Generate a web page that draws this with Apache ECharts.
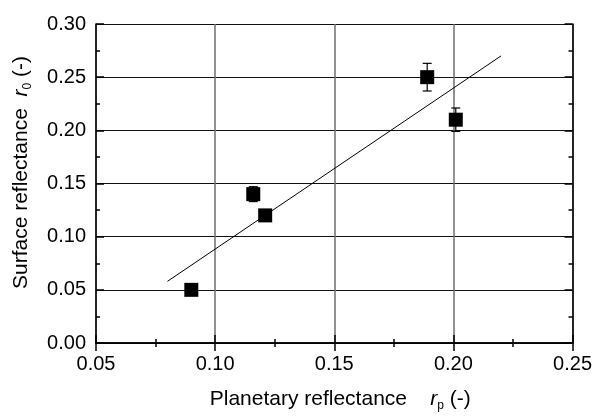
<!DOCTYPE html>
<html lang="en">
<head>
    <meta charset="UTF-8">
    <title>Surface vs planetary reflectance</title>
    <script src="https://cdn.jsdelivr.net/npm/echarts@6/dist/echarts.min.js"></script>
    <style>
        html, body { margin: 0; padding: 0; background: #fff; }
        #chart { width: 595px; height: 417px; }
    </style>
</head>
<body>
<div id="chart"></div>
<script type="text/javascript">
    // measured points (planetary rp, surface r0, error of r0)
    var planetary = [0.090, 0.116, 0.121, 0.189, 0.201];
    var surface = [0.050, 0.140, 0.120, 0.250, 0.210];
    var surfaceErr = [0.002, 0.007, 0.003, 0.013, 0.011];
    // fitted line end points
    var fitX = [0.08, 0.22];
    var fitY = [0.058, 0.270];
    // axis ranges
    var xRange = [0.05, 0.25];
    var yRange = [0.00, 0.30];
    var step = 0.05;

    var font = 'Liberation Sans, Arial, sans-serif';
    var points = planetary.map(function (x, i) { return [x, surface[i]]; });
    var errRows = planetary.map(function (x, i) { return [x, surface[i] - surfaceErr[i], surface[i] + surfaceErr[i]]; });
    var fitLine = fitX.map(function (x, i) { return [x, fitY[i]]; });

    function fmt(v) { return v.toFixed(2); }

    var tickCommon = {
        axisLine: { show: true, lineStyle: { color: '#000', width: 1.5 } },
        axisTick: { show: true, inside: true, length: 8, lineStyle: { color: '#000', width: 1.5 } },
        minorTick: { show: true, splitNumber: 2, length: 4, lineStyle: { color: '#000', width: 1.5 } }
    };

    var titleRich = {
        a: { fontSize: 21, fontFamily: font, color: '#000', lineHeight: 26 },
        i: { fontSize: 21, fontFamily: font, fontStyle: 'italic', color: '#000', lineHeight: 26 },
        s: { fontSize: 12, fontFamily: font, color: '#000', lineHeight: 12, verticalAlign: 'bottom' }
    };

    var chart = echarts.init(document.getElementById('chart'));
    var option = {
        animation: false,
        backgroundColor: '#fff',
        grid: { left: 96, right: 22, top: 24, bottom: 73 },
        xAxis: [
            Object.assign({
                type: 'value', min: xRange[0], max: xRange[1], interval: step,
                axisLabel: { formatter: fmt, color: '#000', fontSize: 20, fontFamily: font, margin: 11 },
                splitLine: { show: true, lineStyle: { color: '#6e6e6e', width: 1.5 } },
                name: '{a|Planetary reflectance    }{i|r}{s|p}{a| (-)}',
                nameLocation: 'middle', nameGap: 43,
                nameTextStyle: { padding: [0, 0, 0, 12], rich: titleRich }
            }, tickCommon),
            Object.assign({
                type: 'value', min: xRange[0], max: xRange[1], interval: step, position: 'top',
                axisLabel: { show: false }, splitLine: { show: false }
            }, tickCommon)
        ],
        yAxis: [
            Object.assign({
                type: 'value', min: yRange[0], max: yRange[1], interval: step,
                axisLabel: { formatter: fmt, color: '#000', fontSize: 20, fontFamily: font, margin: 10 },
                splitLine: { show: true, lineStyle: { color: '#111', width: 1 } },
                name: '{a|Surface reflectance  }{i|r}{s|0}{a| (-)}',
                nameLocation: 'middle', nameRotate: 90, nameGap: 62,
                nameTextStyle: { padding: [0, 0, 0, 22], rich: titleRich }
            }, tickCommon),
            Object.assign({
                type: 'value', min: yRange[0], max: yRange[1], interval: step, position: 'right',
                axisLabel: { show: false }, splitLine: { show: false }
            }, tickCommon)
        ],
        series: [
            {
                type: 'line', data: fitLine, symbol: 'none', silent: true,
                lineStyle: { color: '#000', width: 1 }, z: 3
            },
            {
                type: 'custom', data: errRows, z: 4,
                renderItem: function (params, api) {
                    var lo = api.coord([api.value(0), api.value(1)]);
                    var hi = api.coord([api.value(0), api.value(2)]);
                    var w = 4.5;
                    var st = { stroke: '#000', lineWidth: 1.2 };
                    return {
                        type: 'group',
                        children: [
                            { type: 'line', shape: { x1: lo[0], y1: lo[1], x2: hi[0], y2: hi[1] }, style: st },
                            { type: 'line', shape: { x1: lo[0] - w, y1: lo[1], x2: lo[0] + w, y2: lo[1] }, style: st },
                            { type: 'line', shape: { x1: hi[0] - w, y1: hi[1], x2: hi[0] + w, y2: hi[1] }, style: st }
                        ]
                    };
                }
            },
            {
                type: 'scatter', data: points, symbol: 'rect', symbolSize: 14,
                itemStyle: { color: '#000', opacity: 1 }, z: 5
            }
        ]
    };
    chart.setOption(option);
</script>
</body>
</html>
